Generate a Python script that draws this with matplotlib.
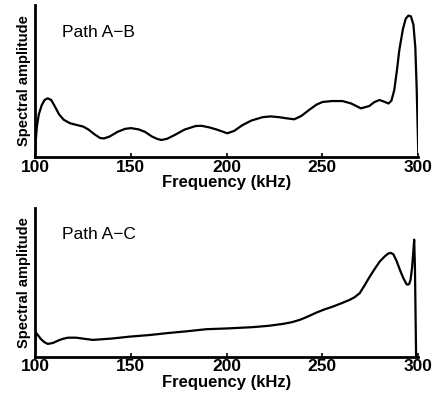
"""Spectral amplitude vs frequency for two wave paths."""

import matplotlib

matplotlib.use("Agg")

import matplotlib.pyplot as plt

plt.rcParams["font.family"] = ["Liberation Sans", "DejaVu Sans"]

# Path A-B (frequency in kHz, amplitude in arbitrary units)
freq_ab = [100, 100.5, 101, 102, 103.5, 105, 106.6, 108.5, 110.5, 112.6, 115, 118.3,
           122, 125.2, 128, 131, 134, 136, 139, 143, 147, 150, 154, 157.5, 161, 164,
           166, 169, 173.4, 178, 183.9, 187, 190.9, 195, 200.4, 204, 208.3, 213,
           218.8, 223, 227.4, 231, 235.3, 239, 243.1, 247, 250.1, 255, 260.5, 265,
           270.1, 274.4, 277, 279.7, 282, 284.5, 286, 287.5, 289, 290.1, 292,
           293.5, 294.9, 296.2, 297.5, 298.5, 299.2, 299.8, 300.1]
amp_ab = [0.0, 0.12, 0.2, 0.28, 0.34, 0.375, 0.386, 0.375, 0.33, 0.28, 0.245, 0.222,
          0.21, 0.2, 0.18, 0.15, 0.125, 0.122, 0.135, 0.165, 0.185, 0.19, 0.182,
          0.165, 0.135, 0.118, 0.112, 0.12, 0.148, 0.18, 0.204, 0.205, 0.195, 0.18,
          0.156, 0.172, 0.21, 0.24, 0.262, 0.267, 0.262, 0.255, 0.248, 0.27, 0.31,
          0.345, 0.362, 0.368, 0.368, 0.352, 0.32, 0.335, 0.36, 0.375, 0.365, 0.352,
          0.37, 0.44, 0.58, 0.70, 0.84, 0.91, 0.93, 0.925, 0.87, 0.72, 0.45, 0.15, 0.0]

# Path A-C
freq_ac = [100, 100.2, 100.4, 101, 101.5, 103, 105, 106.7, 109.3, 112, 114.5, 117.2,
           121.5, 126, 130.2, 140, 149.4, 160, 168.5, 180, 189.4, 200, 213.8, 222,
           229.5, 234, 238.2, 242, 246.9, 251, 255.6, 260, 264.3, 267, 269.5, 272,
           274.8, 277.5, 280, 282.5, 284.3, 285.6, 287, 288.7, 290.4, 292.2, 293.9,
           294.6, 295.3, 296, 296.8, 297.4, 297.9, 298.3, 298.6, 298.9]
amp_ac = [0.0, 0.1, 0.158, 0.155, 0.146, 0.12, 0.097, 0.086, 0.092, 0.108, 0.12,
          0.128, 0.128, 0.12, 0.113, 0.122, 0.135, 0.146, 0.158, 0.172, 0.185, 0.19,
          0.199, 0.208, 0.221, 0.232, 0.248, 0.268, 0.297, 0.318, 0.338, 0.36, 0.383,
          0.402, 0.428, 0.48, 0.541, 0.595, 0.642, 0.675, 0.694, 0.699, 0.69, 0.645,
          0.586, 0.53, 0.488, 0.485, 0.49, 0.518, 0.6, 0.7, 0.788, 0.6, 0.3, 0.0]

xticks = [100, 150, 200, 250, 300]
panels = [
    (freq_ab, amp_ab, "Path A\u2212B", [0.080, 0.6025, 0.877, 0.385]),
    (freq_ac, amp_ac, "Path A\u2212C", [0.080, 0.097, 0.877, 0.376]),
]


def main():
    fig = plt.figure(figsize=(4.37, 3.95), dpi=100)
    for freq, amp, label, rect in panels:
        ax = fig.add_axes(rect)
        ax.plot(freq, amp, color="black", linewidth=1.6, solid_joinstyle="round")
        ax.set_xlim(100, 300)
        ax.set_ylim(0, 1)
        for side in ("top", "right"):
            ax.spines[side].set_visible(False)
        for side in ("left", "bottom"):
            ax.spines[side].set_linewidth(2.0)
        ax.set_yticks([])
        ax.set_xticks(xticks)
        ax.tick_params(axis="x", direction="in", length=3, width=1.2, pad=2,
                       labelsize=12.5)
        for t in ax.get_xticklabels():
            t.set_fontweight("bold")
        ax.set_xlabel("Frequency (kHz)", fontsize=12, fontweight="bold",
                      labelpad=0.5)
        ax.set_ylabel("Spectral amplitude", fontsize=10.5, fontweight="bold",
                      labelpad=3)
        ax.text(0.07, 0.82, label, transform=ax.transAxes, fontsize=12.5,
                va="center", ha="left")
    fig.savefig("out.png", dpi=100)


if __name__ == "__main__":
    main()
